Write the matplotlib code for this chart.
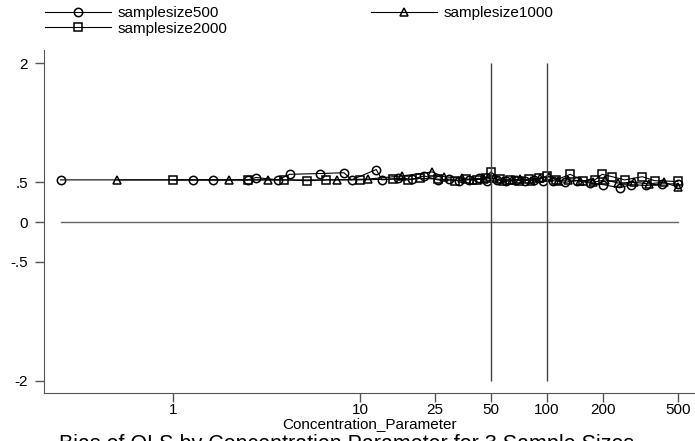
import numpy as np
import matplotlib
matplotlib.use("Agg")
import matplotlib.pyplot as plt

plt.rcParams['font.family'] = ['Liberation Sans', 'DejaVu Sans']

# concentration parameter (x) and OLS bias (y) for each sample size
conc_500 = [0.25, 1.28, 1.64, 2.5, 2.78, 3.64, 4.2, 6.1, 8.2, 9.0, 12.2, 13.1, 16, 19, 22,
            26, 30, 34, 38, 43, 48, 54, 60, 68, 76, 85, 95, 108, 125, 145, 170, 200,
            245, 280, 340, 410, 500]
bias_500 = [0.53, 0.53, 0.53, 0.53, 0.56, 0.53, 0.60, 0.61, 0.62, 0.53, 0.66, 0.53, 0.55, 0.54, 0.58,
            0.53, 0.54, 0.52, 0.53, 0.55, 0.52, 0.53, 0.51, 0.53, 0.52, 0.53, 0.51, 0.52, 0.50, 0.52, 0.49, 0.47,
            0.43, 0.47, 0.46, 0.48, 0.48]

conc_1000 = [0.5, 1.99, 3.22, 7.5, 11, 16.8, 24.3, 28, 35, 40, 46, 52, 58, 65, 72, 82, 92,
             103, 115, 130, 150, 175, 205, 240, 290, 350, 420, 500]
bias_1000 = [0.53, 0.53, 0.53, 0.53, 0.54, 0.58, 0.63, 0.57, 0.55, 0.53, 0.54, 0.55, 0.52, 0.53, 0.54, 0.52, 0.55,
             0.57, 0.52, 0.53, 0.52, 0.50, 0.53, 0.49, 0.50, 0.48, 0.50, 0.44]

conc_2000 = [1.0, 2.5, 3.9, 5.2, 6.6, 10, 15, 18, 21, 26, 32, 37, 42, 47, 50, 56, 63, 71, 80,
             90, 100, 112, 133, 155, 180, 197, 223, 260, 323, 376, 500]
bias_2000 = [0.53, 0.53, 0.53, 0.52, 0.53, 0.53, 0.54, 0.53, 0.55, 0.54, 0.52, 0.54, 0.53, 0.56, 0.63, 0.54, 0.53, 0.52, 0.54,
             0.55, 0.58, 0.53, 0.60, 0.52, 0.53, 0.60, 0.57, 0.53, 0.57, 0.52, 0.51]

xticks = [1, 10, 25, 50, 100, 200, 500]
yticks = [-2, -0.5, 0, 0.5, 2]
ylabels = ['-2', '-.5', '0', '.5', '2']

fig = plt.figure(figsize=(6.95, 4.41), dpi=100)
ax = fig.add_axes([44/695, 1-393/441, 1-44/695, (393-50)/441])

mk = dict(color='black', lw=0.8, markersize=6, fillstyle='none', markeredgewidth=1.1)
l1, = ax.plot(conc_500, bias_500, marker='o', label='samplesize500', **mk)
l2, = ax.plot(conc_1000, bias_1000, marker='^', label='samplesize1000', **mk)
l3, = ax.plot(conc_2000, bias_2000, marker='s', label='samplesize2000', **mk)

# zero reference line across the data range, vertical lines at 50 and 100
allx = conc_500 + conc_1000 + conc_2000
ax.plot([min(allx), max(allx)], [0, 0], color='#666666', lw=1)
ax.vlines([50, 100], -2, 2, color='#444444', lw=1)

ax.set_xscale('log')
ax.set_xlim(0.204, 618)
ax.set_ylim(-2.151, 2.164)
ax.set_xticks(xticks)
ax.set_xticklabels([str(t) for t in xticks])
ax.xaxis.set_minor_locator(matplotlib.ticker.NullLocator())
ax.set_yticks(yticks)
ax.set_yticklabels(ylabels)

for s in ['top', 'right']:
    ax.spines[s].set_visible(False)
for s in ['left', 'bottom']:
    ax.spines[s].set_color('#555555')
ax.tick_params(axis='both', length=6.5, width=1, color='#555555', labelsize=11)
ax.tick_params(axis='x', pad=1)
ax.tick_params(axis='y', pad=5)

ax.set_xlabel('Concentration_Parameter', fontsize=11, labelpad=0)

fig.text(347/695, 1-434/441, 'Bias of OLS by Concentration Parameter for 3 Sample Sizes',
         ha='center', va='top', fontsize=15.5)

fig.legend([l1, l3, l2], ['samplesize500', 'samplesize2000', 'samplesize1000'],
           ncol=2, loc='upper left', bbox_to_anchor=(45/695, 1-6/441),
           frameon=False, fontsize=11, handlelength=4.3, handletextpad=0.45,
           columnspacing=9.4, labelspacing=0.1, borderpad=0, borderaxespad=0)

fig.savefig('out.png', dpi=100)
